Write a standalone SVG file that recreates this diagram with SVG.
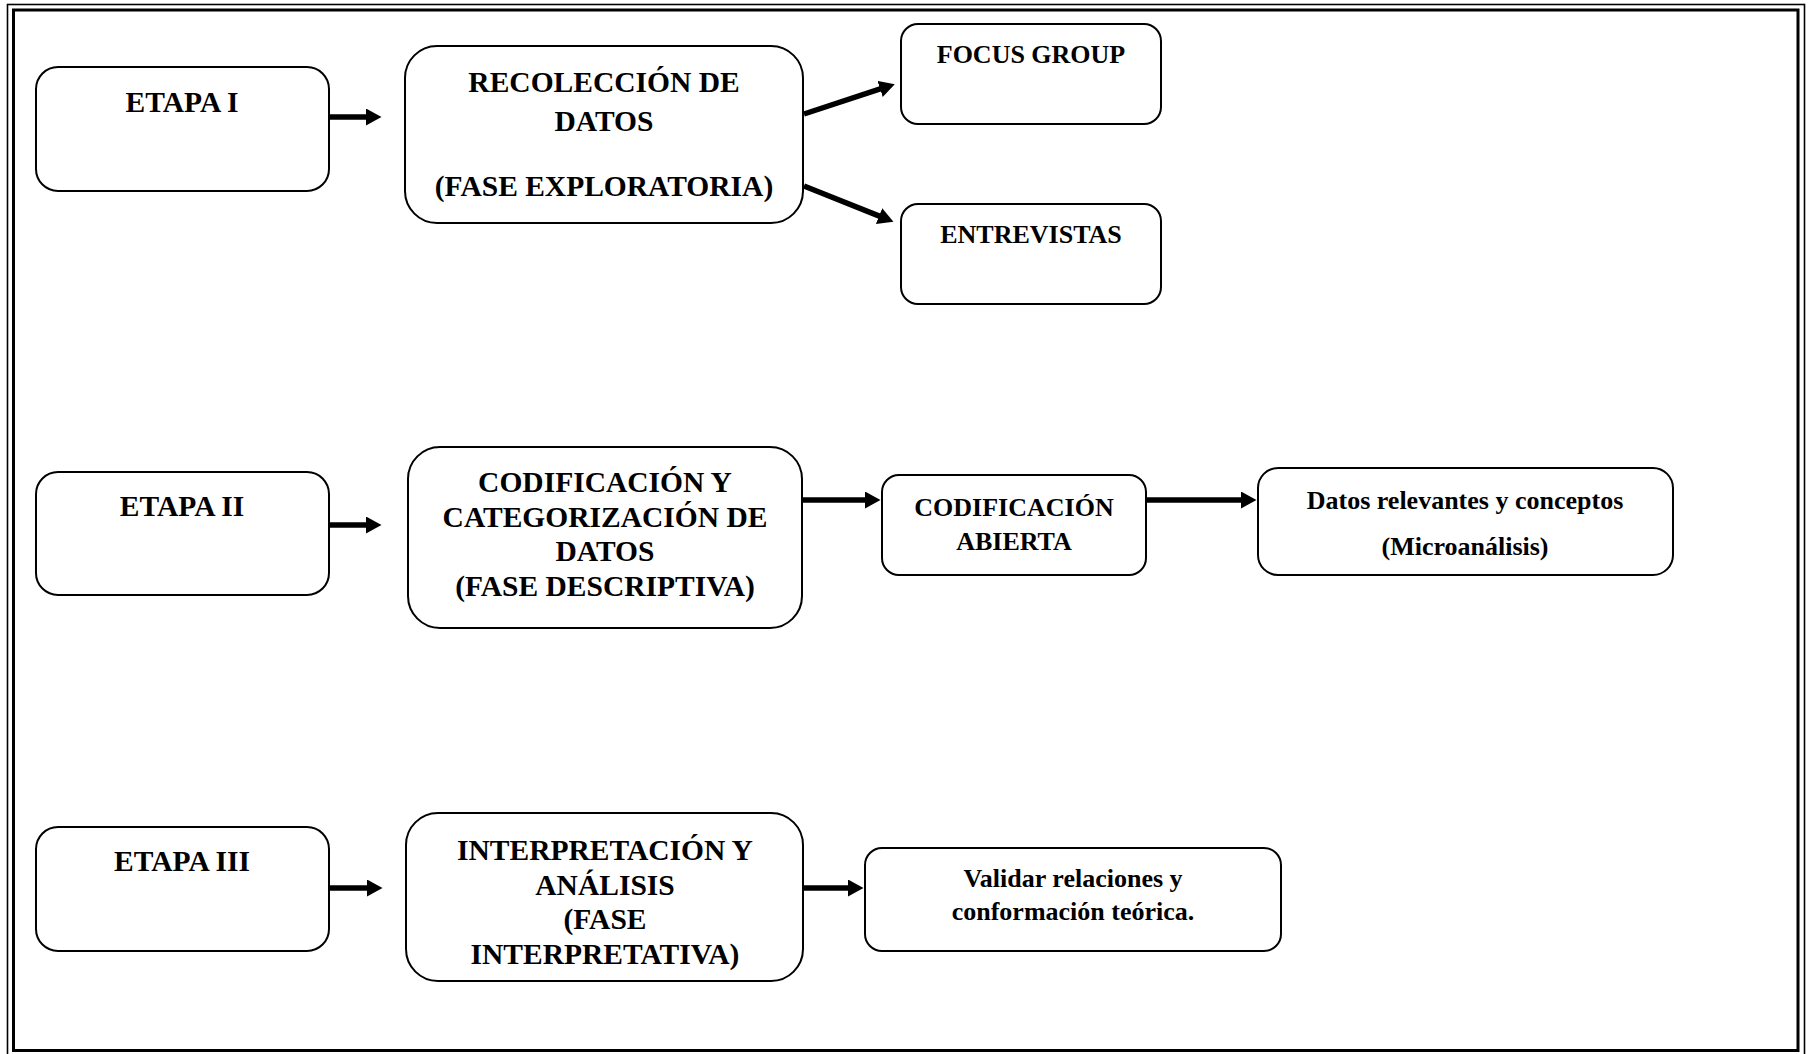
<svg xmlns="http://www.w3.org/2000/svg" width="1809" height="1054" viewBox="0 0 1809 1054">
<style>
.box{fill:#fff;stroke:#000;stroke-width:2}
.t{font-family:"Liberation Serif","Times New Roman",serif;font-weight:bold;text-anchor:middle;fill:#000}
.h{font-size:29.5px}
.s{font-size:26px}
.c{stroke:#000;stroke-width:5.5;fill:none;marker-end:url(#ah)}
</style>
<defs>
<marker id="ah" markerUnits="userSpaceOnUse" markerWidth="17" markerHeight="18" refX="1" refY="8.5" orient="auto">
<path d="M0,0 L15.5,8.5 L0,17 z" fill="#000"/>
</marker>
</defs>
<rect width="1809" height="1054" fill="#fff"/>
<g id="border" fill="none" stroke="#000">
<rect x="7.5" y="4.5" width="1797" height="1052" stroke-width="1.6"/>
<rect x="13.5" y="10" width="1784.5" height="1040.5" stroke-width="3"/>
</g>
<g id="connectors">
<line class="c" x1="329" y1="117" x2="367" y2="117"/>
<line class="c" x1="804" y1="114" x2="881" y2="88.7"/>
<line class="c" x1="804" y1="186" x2="880" y2="216.4"/>
<line class="c" x1="329" y1="525" x2="367" y2="525"/>
<line class="c" x1="802" y1="500" x2="866" y2="500"/>
<line class="c" x1="1146" y1="500" x2="1242" y2="500"/>
<line class="c" x1="328" y1="888" x2="368" y2="888"/>
<line class="c" x1="804" y1="888" x2="849" y2="888"/>
</g>
<g id="etapa1">
<rect class="box" x="36" y="67" width="293" height="124" rx="22"/>
<text class="t h" x="182" y="112">ETAPA I</text>
</g>
<g id="recoleccion">
<rect class="box" x="405" y="46" width="398" height="177" rx="32"/>
<text class="t h" x="604" y="92">RECOLECCIÓN DE</text>
<text class="t h" x="604" y="131">DATOS</text>
<text class="t h" x="604" y="196">(FASE EXPLORATORIA)</text>
</g>
<g id="focus">
<rect class="box" x="901" y="24" width="260" height="100" rx="17"/>
<text class="t s" x="1031" y="63">FOCUS GROUP</text>
</g>
<g id="entrevistas">
<rect class="box" x="901" y="204" width="260" height="100" rx="17"/>
<text class="t s" x="1031" y="243">ENTREVISTAS</text>
</g>
<g id="etapa2">
<rect class="box" x="36" y="472" width="293" height="123" rx="22"/>
<text class="t h" x="182" y="515.5">ETAPA II</text>
</g>
<g id="codificacion">
<rect class="box" x="408" y="447" width="394" height="181" rx="32"/>
<text class="t h" x="605" y="492">CODIFICACIÓN Y</text>
<text class="t h" x="605" y="527">CATEGORIZACIÓN DE</text>
<text class="t h" x="605" y="561">DATOS</text>
<text class="t h" x="605" y="596">(FASE DESCRIPTIVA)</text>
</g>
<g id="abierta">
<rect class="box" x="882" y="475" width="264" height="100" rx="17"/>
<text class="t s" x="1014" y="516">CODIFICACIÓN</text>
<text class="t s" x="1014" y="550">ABIERTA</text>
</g>
<g id="datos">
<rect class="box" x="1258" y="468" width="415" height="107" rx="20"/>
<text class="t s" x="1465" y="509">Datos relevantes y conceptos</text>
<text class="t s" x="1465" y="555">(Microanálisis)</text>
</g>
<g id="etapa3">
<rect class="box" x="36" y="827" width="293" height="124" rx="22"/>
<text class="t h" x="182" y="870.5">ETAPA III</text>
</g>
<g id="interpretacion">
<rect class="box" x="406" y="813" width="397" height="168" rx="32"/>
<text class="t h" x="605" y="859.5">INTERPRETACIÓN Y</text>
<text class="t h" x="605" y="894.5">ANÁLISIS</text>
<text class="t h" x="605" y="928.5">(FASE</text>
<text class="t h" x="605" y="963.5">INTERPRETATIVA)</text>
</g>
<g id="validar">
<rect class="box" x="865" y="848" width="416" height="103" rx="17"/>
<text class="t s" x="1073" y="887">Validar relaciones y</text>
<text class="t s" x="1073" y="920">conformación teórica.</text>
</g>
</svg>
